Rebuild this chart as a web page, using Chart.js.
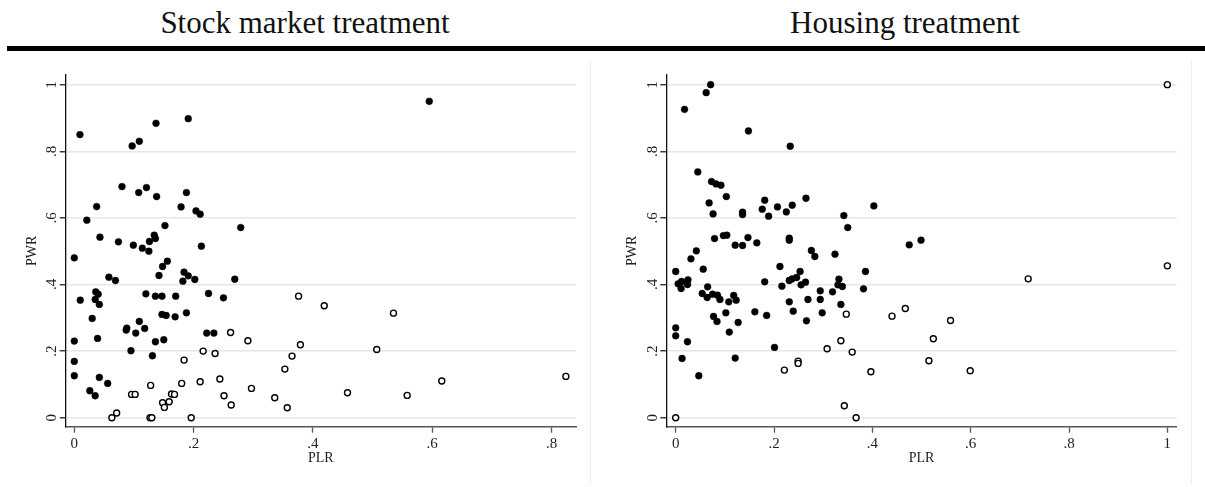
<!DOCTYPE html>
<html>
<head>
<meta charset="utf-8">
<script src="https://cdn.jsdelivr.net/npm/chart.js@4/dist/chart.umd.min.js"></script>
<style>
    body { margin: 0; width: 1205px; height: 487px; background: #fff; overflow: hidden; position: relative; font-family: "Liberation Serif", "Times New Roman", serif; }
    .title { position: absolute; top: 5px; font-size: 31px; color: #111; white-space: nowrap; transform: translateX(-50%); }
    #rule { position: absolute; left: 7px; top: 46px; width: 1198px; height: 5px; background: #000; }
    .frame { position: absolute; top: 60px; width: 1px; height: 425px; background: #eeeeee; }
    canvas { position: absolute; top: 60px; }
</style>
</head>
<body>

<div class="title" style="left: 305px;">Stock market treatment</div>
<div class="title" style="left: 905px;">Housing treatment</div>
<div id="rule"></div>
<div class="frame" style="left: 590px;"></div>
<div class="frame" style="left: 1191px;"></div>

<canvas id="stock" width="590" height="427" style="left: 0px;"></canvas>
<canvas id="housing" width="592" height="427" style="left: 600px;"></canvas>

<script>

// tick labels
const pwrTicks = [0, 0.2, 0.4, 0.6, 0.8, 1];
const stockPlrTicks = [0, 0.2, 0.4, 0.6, 0.8];
const housingPlrTicks = [0, 0.2, 0.4, 0.6, 0.8, 1];

// stock market treatment, filled markers
const stockClosedPLR = [
    0.0095, 0.137, 0.191, 0.097, 0.109, 0.080, 0.108, 0.121, 0.138, 0.188,
    0.0375, 0.179, 0.021, 0.204, 0.211, 0.279, 0.043, 0.074, 0.099, 0.114,
    0.125, 0.126, 0.134, 0.136, 0.152, 0.213, 0, 0.595, 0.156, 0.148,
    0.142, 0.058, 0.069, 0.184, 0.191, 0.182, 0.202, 0.269, 0.010, 0.036,
    0.040, 0.035, 0.042, 0.120, 0.136, 0.147, 0.170, 0.225, 0.250, 0.147,
    0.154, 0.169, 0.188, 0.030, 0.109, 0.088, 0.087, 0.103, 0.118, 0.222,
    0.234, 0, 0.039, 0.136, 0.150, 0.095, 0.131, 0, 0, 0.042,
    0.056, 0.026, 0.035
];
const stockClosedPWR = [
    0.850, 0.884, 0.898, 0.816, 0.830, 0.694, 0.676, 0.691, 0.664, 0.676,
    0.634, 0.633, 0.593, 0.621, 0.611, 0.571, 0.542, 0.528, 0.518, 0.509,
    0.500, 0.529, 0.548, 0.538, 0.577, 0.515, 0.480, 0.950, 0.470, 0.454,
    0.427, 0.422, 0.412, 0.437, 0.426, 0.410, 0.415, 0.416, 0.353, 0.378,
    0.371, 0.355, 0.340, 0.372, 0.365, 0.365, 0.365, 0.373, 0.360, 0.310,
    0.307, 0.303, 0.315, 0.298, 0.289, 0.269, 0.263, 0.254, 0.268, 0.254,
    0.254, 0.230, 0.238, 0.228, 0.234, 0.201, 0.186, 0.169, 0.126, 0.121,
    0.103, 0.081, 0.066
];

// stock market treatment, hollow markers
const stockOpenPLR = [
    0.376, 0.419, 0.262, 0.291, 0.379, 0.216, 0.236, 0.365, 0.184, 0.353,
    0.244, 0.128, 0.180, 0.211, 0.297, 0.096, 0.102, 0.163, 0.168, 0.251,
    0.336, 0.159, 0.148, 0.151, 0.263, 0.357, 0.071, 0.063, 0.127, 0.130,
    0.196, 0.535, 0.507, 0.824, 0.616, 0.458, 0.558
];
const stockOpenPWR = [
    0.365, 0.336, 0.256, 0.231, 0.219, 0.200, 0.193, 0.185, 0.173, 0.146,
    0.116, 0.097, 0.103, 0.108, 0.088, 0.070, 0.070, 0.071, 0.070, 0.066,
    0.060, 0.048, 0.045, 0.031, 0.038, 0.030, 0.014, 0, 0, 0,
    0, 0.314, 0.205, 0.124, 0.110, 0.075, 0.067
];

// housing treatment, filled markers
const housingClosedPLR = [
    0.018, 0.062, 0.071, 0.148, 0.233, 0.045, 0.073, 0.082, 0.092, 0.103,
    0.068, 0.076, 0.136, 0.136, 0.181, 0.176, 0.189, 0.207, 0.225, 0.237,
    0.265, 0.342, 0.350, 0.403, 0.079, 0.097, 0.104, 0.147, 0.121, 0.136,
    0.165, 0.231, 0.231, 0.276, 0.283, 0.324, 0.042, 0.031, 0.475, 0.499,
    0, 0.056, 0.212, 0.181, 0.216, 0.231, 0.237, 0.246, 0.253, 0.255,
    0.264, 0.332, 0.330, 0.339, 0.386, 0.382, 0.294, 0.319, 0.269, 0.294,
    0.231, 0.336, 0.239, 0.298, 0.266, 0.161, 0.185, 0.201, 0.005, 0.012,
    0.025, 0.011, 0.024, 0.065, 0.054, 0.064, 0.075, 0.085, 0.090, 0.077,
    0.084, 0.108, 0.118, 0.123, 0.102, 0.109, 0.127, 0.121, 0, 0,
    0.024, 0.013, 0.047
];
const housingClosedPWR = [
    0.926, 0.976, 1.000, 0.861, 0.815, 0.738, 0.709, 0.702, 0.698, 0.664,
    0.645, 0.612, 0.617, 0.610, 0.653, 0.626, 0.605, 0.633, 0.618, 0.638,
    0.659, 0.607, 0.571, 0.636, 0.538, 0.547, 0.548, 0.541, 0.518, 0.517,
    0.525, 0.539, 0.533, 0.502, 0.484, 0.491, 0.501, 0.477, 0.519, 0.533,
    0.439, 0.446, 0.454, 0.408, 0.395, 0.412, 0.417, 0.421, 0.439, 0.399,
    0.407, 0.416, 0.399, 0.394, 0.439, 0.387, 0.381, 0.378, 0.355, 0.355,
    0.348, 0.340, 0.320, 0.315, 0.291, 0.318, 0.307, 0.211, 0.402, 0.409,
    0.414, 0.388, 0.400, 0.393, 0.373, 0.361, 0.371, 0.368, 0.355, 0.304,
    0.289, 0.348, 0.367, 0.353, 0.315, 0.257, 0.286, 0.179, 0.270, 0.246,
    0.228, 0.178, 0.126
];

// housing treatment, hollow markers
const housingOpenPLR = [
    0, 0.347, 0.336, 0.308, 0.359, 0.249, 0.249, 0.221, 0.397, 0.343,
    0.367, 0.440, 0.467, 0.559, 0.524, 0.515, 0.599, 0.717, 1.0, 1.0
];
const housingOpenPWR = [
    0, 0.311, 0.231, 0.207, 0.197, 0.170, 0.163, 0.143, 0.138, 0.036,
    0, 0.305, 0.328, 0.292, 0.237, 0.171, 0.141, 0.417, 0.456, 1.0
];

const serif = "'Liberation Serif', 'Times New Roman', serif";

function toPoints(xs, ys) {
    return xs.map((x, i) => ({ x: x, y: ys[i] }));
}

// Stata style labels: .2 instead of 0.2
function stataLabel(v) {
    if (v === 0) return "0";
    if (v === 1) return "1";
    return v.toFixed(1).replace(/^0/, "");
}

function makeChart(id, closedX, closedY, openX, openY, xTicks, xMin, xMax, yAxisWidth, rightPad) {

    const ctx = document.getElementById(id).getContext("2d");

    return new Chart(ctx, {

        type: "scatter",

        data: {
            datasets: [
                {
                    data: toPoints(closedX, closedY),
                    pointRadius: 3.4,
                    pointBackgroundColor: "#000",
                    pointBorderColor: "#000",
                    pointBorderWidth: 0.5
                },
                {
                    data: toPoints(openX, openY),
                    pointRadius: 3.0,
                    pointBackgroundColor: "#fff",
                    pointBorderColor: "#000",
                    pointBorderWidth: 1.4
                }
            ]
        },

        options: {
            responsive: false,
            animation: false,
            devicePixelRatio: 1,
            layout: { padding: { left: 0, right: rightPad, top: 15, bottom: 0 } },
            plugins: {
                legend: { display: false },
                tooltip: { enabled: false }
            },
            scales: {
                x: {
                    type: "linear",
                    min: xMin,
                    max: xMax,
                    afterBuildTicks: s => { s.ticks = xTicks.map(v => ({ value: v })); },
                    afterFit: s => { s.height = 60.3; },
                    grid: {
                        drawOnChartArea: false,
                        drawTicks: true,
                        tickLength: 6,
                        tickColor: "#555",
                        tickWidth: 1.3
                    },
                    border: { color: "#555", width: 1.5 },
                    ticks: {
                        autoSkip: false,
                        maxRotation: 0,
                        padding: 2,
                        color: "#222",
                        font: { family: serif, size: 15 },
                        callback: v => stataLabel(v)
                    },
                    title: {
                        display: true,
                        text: "PLR",
                        color: "#222",
                        font: { family: serif, size: 14 },
                        padding: { top: 0, bottom: 20 }
                    }
                },
                y: {
                    type: "linear",
                    min: -0.027,
                    max: 1.029,
                    afterBuildTicks: s => { s.ticks = pwrTicks.map(v => ({ value: v })); },
                    afterFit: s => { s.width = yAxisWidth; },
                    grid: {
                        color: "#e6e6e6",
                        lineWidth: 1.5,
                        tickLength: 6,
                        tickColor: "#222",
                        tickWidth: 1.3
                    },
                    border: { color: "#111", width: 1.3 },
                    ticks: {
                        minRotation: 90,
                        maxRotation: 90,
                        crossAlign: "center",
                        padding: 2,
                        color: "#222",
                        font: { family: serif, size: 15 },
                        callback: v => stataLabel(v)
                    },
                    title: {
                        display: true,
                        text: "PWR",
                        color: "#222",
                        font: { family: serif, size: 14 },
                        padding: { top: 24, bottom: 0 }
                    }
                }
            }
        }
    });
}

makeChart("stock", stockClosedPLR, stockClosedPWR, stockOpenPLR, stockOpenPWR,
    stockPlrTicks, -0.0144, 0.841, 65.7, 14);

makeChart("housing", housingClosedPLR, housingClosedPWR, housingOpenPLR, housingOpenPWR,
    housingPlrTicks, -0.0191, 1.019, 66.3, 15.3);

</script>
</body>
</html>
